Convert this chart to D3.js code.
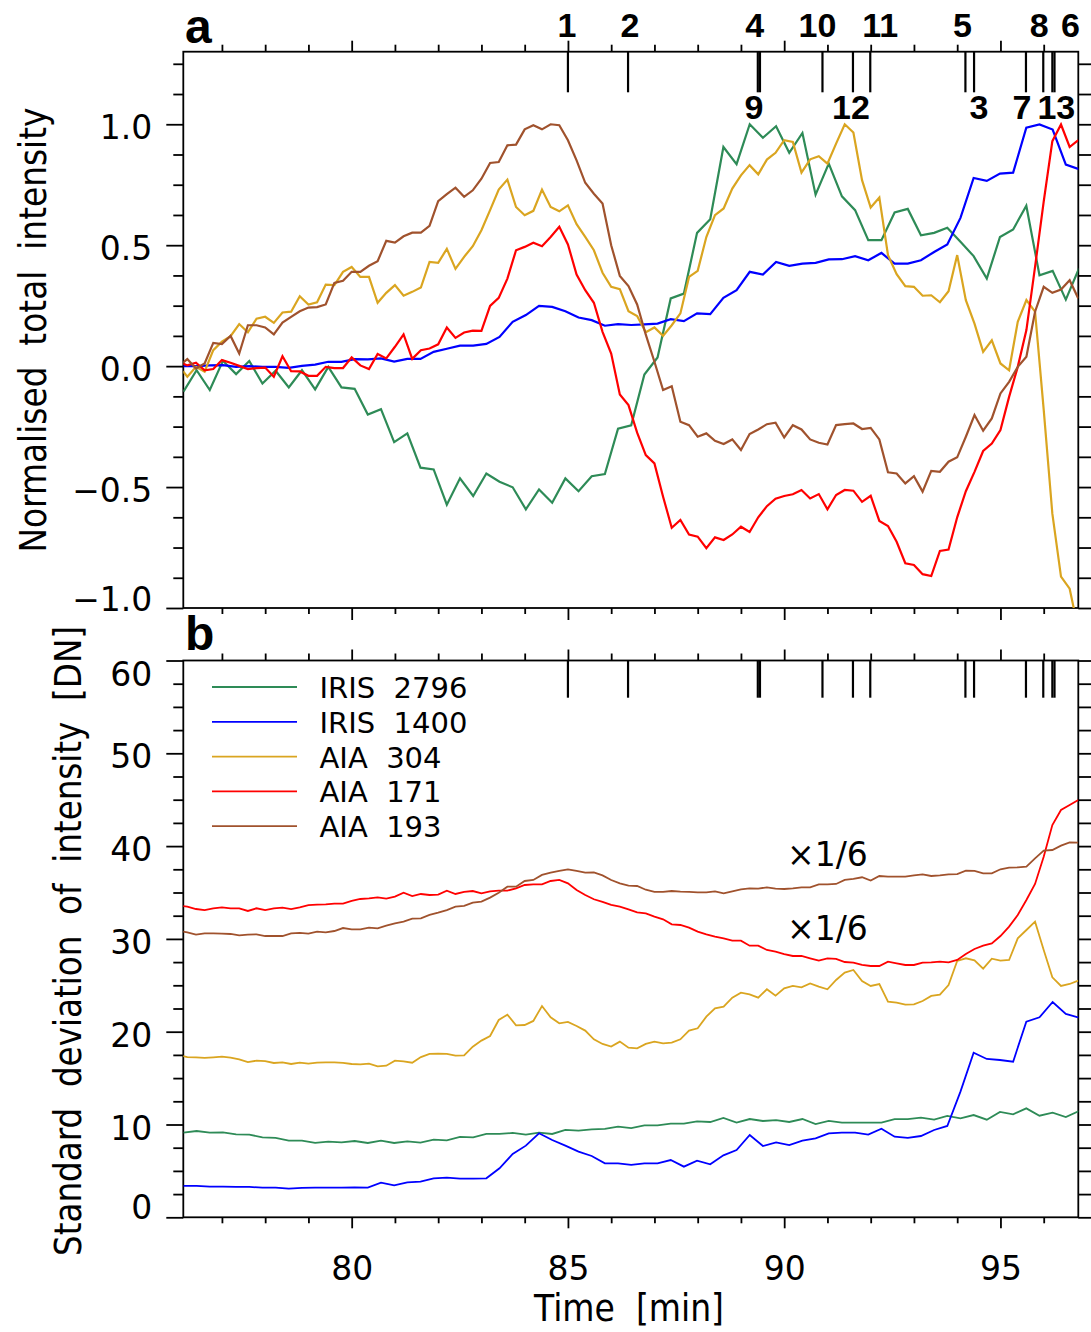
<!DOCTYPE html>
<html>
<head>
<meta charset="utf-8">
<script src="https://cdn.jsdelivr.net/npm/d3@7"></script>
<style>
  body { margin: 0; background: #fff; }
  svg { display: block; }
  text { font-family: "DejaVu Sans", sans-serif; }
</style>
</head>
<body>
<svg id="chart" width="1091" height="1332"></svg>
<script>
// ---------------- DATA ----------------
const seriesNames = ["IRIS  2796", "IRIS  1400", "AIA  304", "AIA  171", "AIA  193"];
const seriesColors = ["#2e8b57", "#0000ff", "#daa520", "#ff0000", "#a0522d"];

// sampling grids (minutes)
const irisStart = 76.11, irisCadence = 0.3045, irisCount = 69;
const aiaFirstEdge = 76.1, aiaStart = 76.2, aiaCadence = 0.2, aiaCount = 104;

const xMajorTicks = [80, 85, 90, 95];
const yATicks = [-1.0, -0.5, 0.0, 0.5, 1.0];
const yBTicks = [0, 10, 20, 30, 40, 50, 60];

// Panel a: normalised total intensity
const aIris2796 = [-0.106,-0.017,-0.099,0.022,-0.033,0.021,-0.072,-0.019,-0.088,-0.017,
  -0.096,-0.003,-0.088,-0.094,-0.200,-0.178,-0.314,-0.278,-0.420,-0.427,
  -0.573,-0.464,-0.537,-0.444,-0.478,-0.501,-0.592,-0.510,-0.565,-0.464,
  -0.517,-0.455,-0.446,-0.259,-0.245,-0.035,0.036,0.280,0.300,0.551,
  0.607,0.906,0.835,1.000,0.944,0.992,0.882,0.964,0.709,0.837,
  0.702,0.645,0.521,0.521,0.635,0.650,0.541,0.551,0.572,0.514,
  0.455,0.362,0.534,0.565,0.663,0.376,0.394,0.275,0.404];
const aIris1400 = [0.000,0.000,0.003,0.004,-0.003,0.000,-0.003,-0.003,-0.007,0.001,
  0.006,0.018,0.018,0.029,0.028,0.032,0.019,0.030,0.030,0.059,
  0.072,0.085,0.085,0.092,0.121,0.183,0.211,0.249,0.245,0.227,
  0.201,0.190,0.167,0.174,0.170,0.173,0.176,0.194,0.186,0.218,
  0.215,0.282,0.314,0.390,0.379,0.431,0.415,0.424,0.427,0.441,
  0.442,0.455,0.438,0.468,0.424,0.424,0.438,0.472,0.503,0.613,
  0.778,0.766,0.796,0.800,0.986,0.999,0.978,0.833,0.814];
const aAia304 = [-0.021,
  -0.044,-0.003,-0.023,0.066,0.101,0.124,0.174,0.140,0.196,0.204,
  0.179,0.222,0.225,0.289,0.255,0.264,0.337,0.335,0.390,0.410,
  0.369,0.369,0.262,0.303,0.335,0.291,0.307,0.325,0.431,0.427,
  0.485,0.402,0.452,0.496,0.562,0.645,0.730,0.771,0.658,0.624,
  0.642,0.730,0.658,0.640,0.665,0.587,0.534,0.479,0.386,0.328,
  0.318,0.227,0.207,0.140,0.160,0.125,0.169,0.218,0.369,0.394,
  0.534,0.624,0.652,0.734,0.789,0.831,0.793,0.854,0.882,0.934,
  0.927,0.800,0.855,0.868,0.837,0.920,1.000,0.966,0.769,0.656,
  0.697,0.459,0.380,0.331,0.328,0.291,0.293,0.264,0.310,0.459,
  0.273,0.176,0.059,0.107,0.011,-0.017,0.183,0.273,0.225,-0.180,
  -0.610,-0.870,-0.920,-1.090];
const aAia171 = [0.011,
  0.003,0.014,-0.017,-0.012,0.025,0.014,0.001,-0.012,-0.008,-0.006,
  -0.044,0.041,-0.021,-0.022,-0.040,-0.040,-0.003,-0.008,-0.008,0.036,
  0.003,-0.012,0.050,0.032,0.080,0.131,0.030,0.066,0.073,0.090,
  0.160,0.117,0.139,0.147,0.146,0.249,0.282,0.362,0.479,0.493,
  0.510,0.496,0.534,0.576,0.503,0.379,0.314,0.262,0.142,0.052,
  -0.117,-0.161,-0.275,-0.368,-0.402,-0.540,-0.668,-0.636,-0.696,-0.705,
  -0.753,-0.708,-0.719,-0.696,-0.664,-0.686,-0.625,-0.579,-0.548,-0.537,
  -0.530,-0.512,-0.547,-0.529,-0.592,-0.533,-0.512,-0.515,-0.561,-0.536,
  -0.640,-0.661,-0.726,-0.815,-0.822,-0.860,-0.868,-0.764,-0.758,-0.625,
  -0.517,-0.437,-0.351,-0.320,-0.264,-0.127,-0.003,0.149,0.410,0.680,
  0.930,0.999,0.906,0.934];
const aAia193 = [0.014,
  0.029,-0.010,0.011,0.096,0.091,0.125,0.052,0.169,0.169,0.160,
  0.131,0.180,0.204,0.227,0.242,0.244,0.255,0.344,0.353,0.390,
  0.390,0.415,0.434,0.518,0.511,0.537,0.552,0.552,0.580,0.682,
  0.711,0.738,0.700,0.727,0.775,0.840,0.844,0.913,0.916,0.979,
  0.996,0.979,1.000,0.996,0.934,0.851,0.758,0.713,0.672,0.500,
  0.373,0.331,0.255,0.130,0.018,-0.099,-0.083,-0.230,-0.244,-0.292,
  -0.278,-0.309,-0.322,-0.303,-0.347,-0.281,-0.262,-0.240,-0.234,-0.295,
  -0.244,-0.262,-0.303,-0.317,-0.324,-0.244,-0.240,-0.237,-0.260,-0.255,
  -0.303,-0.439,-0.444,-0.485,-0.455,-0.519,-0.433,-0.437,-0.395,-0.377,
  -0.292,-0.202,-0.267,-0.216,-0.113,-0.065,-0.003,0.039,0.225,0.328,
  0.303,0.317,0.355,0.280];

// Panel b: standard deviation of intensity [DN]
const bIris2796 = [9.12,9.30,9.12,9.16,8.94,8.91,8.62,8.55,8.26,8.26,
  8.01,8.15,8.08,8.22,8.01,8.26,8.01,8.19,8.05,8.37,
  8.30,8.66,8.62,8.98,8.98,9.09,8.91,9.12,8.98,9.41,
  9.34,9.48,9.52,9.77,9.60,9.90,9.91,10.09,10.09,10.34,
  10.27,10.70,10.20,10.59,10.38,10.48,10.27,10.59,10.05,10.38,
  10.20,10.20,10.20,10.20,10.59,10.59,10.74,10.52,10.92,10.66,
  11.02,10.52,11.35,11.10,11.74,10.95,11.28,10.81,11.46];
const bIris1400 = [3.38,3.38,3.30,3.30,3.27,3.27,3.20,3.20,3.09,3.16,
  3.20,3.20,3.20,3.23,3.20,3.74,3.45,3.77,3.84,4.20,
  4.27,4.16,4.16,4.20,5.28,6.82,7.72,9.05,8.33,7.72,
  7.07,6.61,5.82,5.82,5.64,5.82,5.82,6.17,5.46,6.10,
  5.71,6.68,7.25,8.87,7.68,8.08,7.79,8.26,8.51,9.05,
  9.12,9.12,8.91,9.55,8.69,8.55,8.76,9.41,9.84,13.54,
  17.74,17.06,16.95,16.77,21.08,21.55,23.20,21.91,21.52];
const bAia304 = [17.38,
  17.27,17.24,17.17,17.24,17.31,17.20,17.02,16.73,16.88,16.84,
  16.63,16.70,16.52,16.66,16.55,16.66,16.70,16.70,16.63,16.52,
  16.48,16.55,16.27,16.34,16.88,16.81,16.66,17.27,17.60,17.63,
  17.60,17.42,17.45,18.39,19.04,19.54,21.26,21.84,20.69,20.72,
  21.16,22.77,21.55,20.90,21.05,20.62,20.12,19.18,18.68,18.39,
  18.93,18.28,18.21,18.68,18.93,18.75,18.82,19.18,20.12,20.37,
  21.62,22.52,22.70,23.67,24.21,24.03,23.67,24.57,23.88,24.68,
  24.93,24.78,25.21,24.86,24.57,25.57,26.36,26.65,25.46,24.93,
  25.14,23.24,23.13,22.91,22.95,23.31,23.85,23.99,25.03,27.62,
  27.91,27.69,26.79,27.87,27.66,27.73,30.06,30.96,31.86,28.81,
  25.86,24.93,25.14,25.50];
const bAia171 = [33.54,
  33.48,33.22,33.11,33.30,33.40,33.30,33.30,33.01,33.30,33.11,
  33.30,33.37,33.22,33.40,33.65,33.69,33.73,33.80,33.80,34.09,
  34.30,34.37,34.48,34.34,34.55,34.98,34.62,34.84,34.73,34.77,
  35.20,34.84,35.06,35.16,34.91,35.13,35.20,35.20,35.45,35.81,
  35.88,35.88,36.24,36.35,35.99,35.27,34.73,34.27,33.98,33.66,
  33.47,33.18,32.86,32.76,32.40,32.11,31.57,31.50,31.21,30.78,
  30.49,30.24,30.06,29.81,29.81,29.27,29.27,28.81,28.63,28.37,
  28.16,28.16,27.91,27.66,27.91,27.84,27.51,27.44,27.19,27.08,
  27.08,27.55,27.37,27.19,27.19,27.44,27.48,27.55,27.48,27.73,
  28.37,28.91,29.27,29.52,30.31,31.32,32.58,34.19,35.92,38.86,
  42.27,43.89,44.43,44.97];
const bAia193 = [30.78,
  30.71,30.46,30.60,30.60,30.56,30.53,30.39,30.46,30.49,30.31,
  30.31,30.31,30.60,30.64,30.56,30.78,30.71,30.85,31.17,31.03,
  31.03,31.21,31.14,31.43,31.68,31.86,32.18,32.22,32.58,32.83,
  33.11,33.48,33.55,33.91,34.01,34.45,34.98,35.63,35.63,36.24,
  36.35,36.89,37.14,37.32,37.50,37.32,37.14,37.17,36.85,36.35,
  35.99,35.74,35.70,35.30,35.06,35.06,35.16,35.09,35.06,35.02,
  35.02,35.13,34.91,35.13,35.34,35.45,35.42,35.56,35.42,35.38,
  35.45,35.56,35.56,35.88,35.88,35.92,36.35,36.46,36.64,36.28,
  36.78,36.71,36.71,36.71,36.85,36.96,36.78,36.85,36.96,36.99,
  37.35,37.32,37.07,37.07,37.50,37.68,37.71,37.79,38.68,39.51,
  39.58,40.05,40.41,40.37];

// Event markers
const eventIds   = ["1", "2", "4", "9", "10", "12", "11", "5", "3", "7", "8", "13", "6"];
const eventTimes = [85.00, 86.39, 89.39, 89.44, 90.885, 91.59, 91.99, 94.19, 94.39, 95.59, 95.99, 96.20, 96.25];
const eventRow   = ["top", "top", "top", "bottom", "top", "bottom", "top", "top", "bottom", "bottom", "top", "bottom", "top"];

const scaleNotes = ["×1/6", "×1/6"];

// ---------------- LAYOUT ----------------
const labelNudge = { "1": -1, "2": 2, "4": -3, "9": -6, "10": -5, "12": -2, "11": 10, "5": -3, "3": 5, "7": -4, "8": -4, "13": 4, "6": 16 };

const irisTimes = d3.range(irisCount).map(k => irisStart + irisCadence * k);
const aiaTimes = [aiaFirstEdge].concat(d3.range(aiaCount).map(i => aiaStart + aiaCadence * i));

const svg = d3.select("#chart");
const L = 183.3, R = 1078.3;
const aTop = 51.7, aBot = 608, bTop = 660.5, bBot = 1217.3;

const x = d3.scaleLinear().domain([76.107, 96.80]).range([L, R]);
const yA = d3.scaleLinear().domain([-1.0, 1.3]).range([aBot, aTop]);
const yB = d3.scaleLinear().domain([0, 60]).range([bBot, bTop]);

const xMinorTicks = d3.range(77, 97, 1).filter(v => !xMajorTicks.includes(v));
const yAMinor = d3.range(-1, 1.3001, 0.125).filter(v => !yATicks.some(t => Math.abs(t - v) < 1e-6));
const yBMinor = d3.range(0, 60.001, 2.5).filter(v => !yBTicks.some(t => Math.abs(t - v) < 1e-6));

const defs = svg.append("defs");
defs.append("clipPath").attr("id", "clipA").append("rect")
  .attr("x", L).attr("y", aTop).attr("width", R - L).attr("height", aBot - aTop);
defs.append("clipPath").attr("id", "clipB").append("rect")
  .attr("x", L).attr("y", bTop).attr("width", R - L).attr("height", bBot - bTop);

function styleAxis(g) {
  g.select(".domain").remove();
  g.selectAll("line").attr("stroke", "#000").attr("stroke-width", 1.8);
  g.attr("font-family", "DejaVu Sans").attr("font-size", 33);
}

function drawFrame(yScale, top, bot, yMajor, yMinor, yFmt, labelOffset) {
  const gl = svg.append("g").attr("transform", `translate(${L},0)`)
    .call(d3.axisLeft(yScale).tickValues(yMajor).tickSize(17).tickSizeOuter(0).tickFormat(yFmt));
  styleAxis(gl);
  gl.selectAll("text").attr("x", -31).attr("dy", null).attr("fill", "#000")
    .attr("y", d => labelOffset(d));
  const glm = svg.append("g").attr("transform", `translate(${L},0)`)
    .call(d3.axisLeft(yScale).tickValues(yMinor).tickSize(10).tickSizeOuter(0).tickFormat(""));
  styleAxis(glm);
  const gr = svg.append("g").attr("transform", `translate(${R},0)`)
    .call(d3.axisRight(yScale).tickValues(yMajor.concat(yMinor)).tickSize(17).tickSizeOuter(0).tickFormat(""));
  styleAxis(gr);
  const gt = svg.append("g").attr("transform", `translate(0,${top})`)
    .call(d3.axisTop(x).tickValues(xMajorTicks).tickSize(11).tickSizeOuter(0).tickFormat(""));
  styleAxis(gt);
  const gtm = svg.append("g").attr("transform", `translate(0,${top})`)
    .call(d3.axisTop(x).tickValues(xMinorTicks).tickSize(7).tickSizeOuter(0).tickFormat(""));
  styleAxis(gtm);
  svg.append("rect").attr("x", L).attr("y", top).attr("width", R - L).attr("height", bot - top)
    .attr("fill", "none").attr("stroke", "#000").attr("stroke-width", 1.8);
}

// Panel a frame
drawFrame(yA, aTop, aBot, yATicks, yAMinor, d3.format(".1f"), d => (d <= -1 ? 2 : 14.5));
const gab = svg.append("g").attr("transform", `translate(0,${aBot})`)
  .call(d3.axisBottom(x).tickValues(xMajorTicks).tickSize(12).tickSizeOuter(0).tickFormat(""));
styleAxis(gab);
const gabm = svg.append("g").attr("transform", `translate(0,${aBot})`)
  .call(d3.axisBottom(x).tickValues(xMinorTicks).tickSize(6).tickSizeOuter(0).tickFormat(""));
styleAxis(gabm);

// Panel b frame
drawFrame(yB, bTop, bBot, yBTicks, yBMinor, d3.format("d"), d => (d === 0 ? 1.5 : (d === 60 ? 24.5 : 14.5)));
const gbb = svg.append("g").attr("transform", `translate(0,${bBot})`)
  .call(d3.axisBottom(x).tickValues(xMajorTicks).tickSize(11).tickSizeOuter(0).tickFormat(d3.format("d")));
styleAxis(gbb);
gbb.selectAll("text").attr("dy", null).attr("y", 63).attr("fill", "#000");
const gbbm = svg.append("g").attr("transform", `translate(0,${bBot})`)
  .call(d3.axisBottom(x).tickValues(xMinorTicks).tickSize(6).tickSizeOuter(0).tickFormat(""));
styleAxis(gbbm);

// ---------------- SERIES ----------------
function zip(times, vals) { return vals.map((v, i) => ({ t: times[i], v })); }

const panelA = [
  { t: irisTimes, v: aIris2796, c: 0 },
  { t: irisTimes, v: aIris1400, c: 1 },
  { t: aiaTimes, v: aAia304, c: 2 },
  { t: aiaTimes, v: aAia171, c: 3 },
  { t: aiaTimes, v: aAia193, c: 4 }
];
const panelB = [
  { t: irisTimes, v: bIris2796, c: 0 },
  { t: irisTimes, v: bIris1400, c: 1 },
  { t: aiaTimes, v: bAia304, c: 2 },
  { t: aiaTimes, v: bAia171, c: 3 },
  { t: aiaTimes, v: bAia193, c: 4 }
];

const lineA = d3.line().x(d => x(d.t)).y(d => yA(d.v));
const lineB = d3.line().x(d => x(d.t)).y(d => yB(d.v));

const gA = svg.append("g").attr("clip-path", "url(#clipA)");
gA.selectAll("path").data(panelA).join("path")
  .attr("d", s => lineA(zip(s.t, s.v)))
  .attr("fill", "none").attr("stroke", s => seriesColors[s.c])
  .attr("stroke-width", 2.2).attr("stroke-linejoin", "miter");

const gB = svg.append("g").attr("clip-path", "url(#clipB)");
gB.selectAll("path").data(panelB).join("path")
  .attr("d", s => lineB(zip(s.t, s.v)))
  .attr("fill", "none").attr("stroke", s => seriesColors[s.c])
  .attr("stroke-width", 1.8).attr("stroke-linejoin", "miter");

// ---------------- EVENTS ----------------
const events = eventIds.map((id, i) => ({ id, t: eventTimes[i], row: eventRow[i] }));
svg.append("g").selectAll("line").data(events).join("line")
  .attr("x1", d => x(d.t)).attr("x2", d => x(d.t))
  .attr("y1", aTop).attr("y2", aTop + 40.6)
  .attr("stroke", "#000").attr("stroke-width", 2.2);
svg.append("g").selectAll("line").data(events).join("line")
  .attr("x1", d => x(d.t)).attr("x2", d => x(d.t))
  .attr("y1", bTop).attr("y2", bTop + 37.2)
  .attr("stroke", "#000").attr("stroke-width", 2.2);
svg.append("g").selectAll("text").data(events).join("text")
  .attr("x", d => x(d.t) + labelNudge[d.id])
  .attr("y", d => d.row === "top" ? 37 : 119)
  .attr("text-anchor", "middle")
  .style("font-family", "'Liberation Sans', Arial, sans-serif")
  .style("font-weight", "bold").style("font-size", "34px")
  .text(d => d.id);

// ---------------- TEXT ----------------
svg.append("text").attr("x", 185).attr("y", 43)
  .style("font-family", "'Liberation Sans', Arial, sans-serif").style("font-weight", "bold").style("font-size", "48px")
  .text("a");
svg.append("text").attr("x", 185).attr("y", 650)
  .style("font-family", "'Liberation Sans', Arial, sans-serif").style("font-weight", "bold").style("font-size", "48px")
  .text("b");

svg.append("text").attr("transform", "translate(46,330) rotate(-90)")
  .attr("text-anchor", "middle").style("font-size", "37px").style("white-space", "pre")
  .attr("textLength", 445).attr("lengthAdjust", "spacingAndGlyphs")
  .text("Normalised  total  intensity");
svg.append("text").attr("transform", "translate(81,941) rotate(-90)")
  .attr("text-anchor", "middle").style("font-size", "37px").style("white-space", "pre")
  .attr("textLength", 630).attr("lengthAdjust", "spacingAndGlyphs")
  .text("Standard  deviation  of  intensity  [DN]");
svg.append("text").attr("x", 629).attr("y", 1321)
  .attr("text-anchor", "middle").style("font-size", "37px").style("white-space", "pre")
  .attr("textLength", 190).attr("lengthAdjust", "spacingAndGlyphs")
  .text("Time  [min]");

// scale notes
svg.append("text").attr("x", 787).attr("y", 866).style("font-size", "33px").text(scaleNotes[0]);
svg.append("text").attr("x", 787).attr("y", 940).style("font-size", "33px").text(scaleNotes[1]);

// ---------------- LEGEND ----------------
const leg = svg.append("g");
seriesNames.forEach((name, i) => {
  const yy = 687 + 34.8 * i;
  leg.append("line").attr("x1", 212).attr("x2", 297).attr("y1", yy).attr("y2", yy)
    .attr("stroke", seriesColors[i]).attr("stroke-width", 1.8);
  leg.append("text").attr("x", 319.5).attr("y", yy + 11)
    .style("font-size", "29px").style("white-space", "pre").text(name);
});
</script>
</body>
</html>
